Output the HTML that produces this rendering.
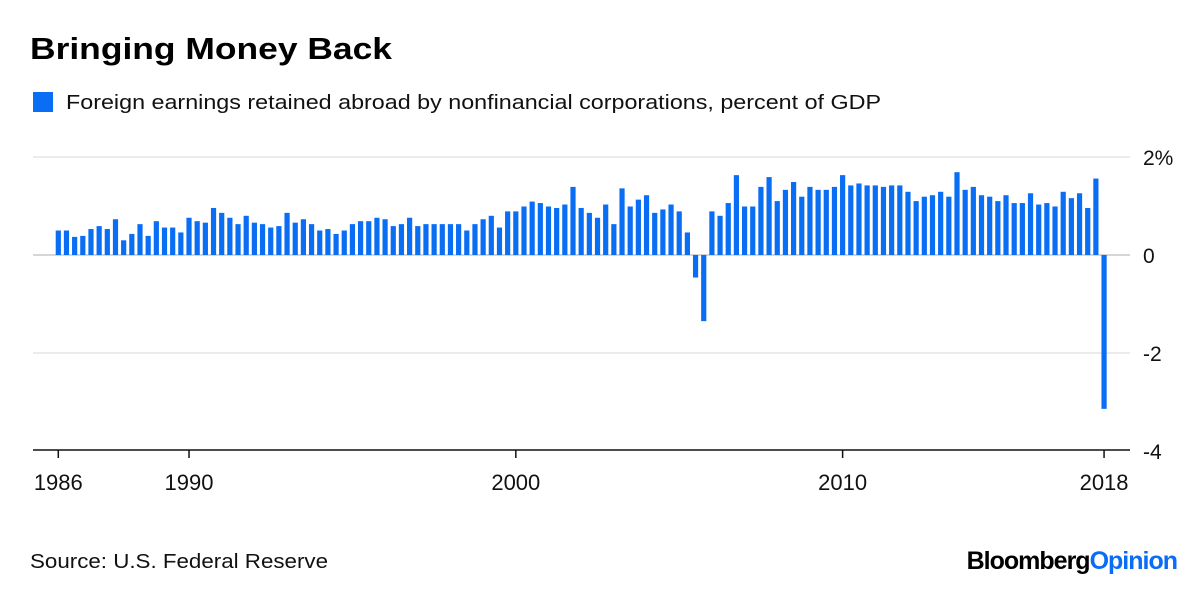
<!DOCTYPE html>
<html><head><meta charset="utf-8"><style>
body{margin:0;background:#fff;width:1200px;height:588px;overflow:hidden;font-family:"Liberation Sans",sans-serif}
</style></head><body>
<svg width="1200" height="588" xmlns="http://www.w3.org/2000/svg">
<text x="30" y="59" font-size="31" font-weight="bold" fill="#000" textLength="362" lengthAdjust="spacingAndGlyphs">Bringing Money Back</text>
<rect x="33" y="92" width="20" height="20" fill="#0a6ef5"/>
<text x="66" y="109" font-size="20" fill="#111" textLength="815" lengthAdjust="spacingAndGlyphs">Foreign earnings retained abroad by nonfinancial corporations, percent of GDP</text>
<g id="grid"></g>
<g id="bars"></g>
<g id="axes"></g>
<text x="30" y="568" font-size="20" fill="#111" textLength="298" lengthAdjust="spacingAndGlyphs">Source: U.S. Federal Reserve</text>
<text x="1177" y="569" font-size="25" font-weight="bold" text-anchor="end" letter-spacing="-1"><tspan fill="#000">Bloomberg</tspan><tspan fill="#0a6ef5">Opinion</tspan></text>
</svg>
<script>
const startYear = 1986;
const values = [0.50,0.50,0.37,0.39,0.53,0.59,0.53,0.73,0.30,0.43,0.63,0.39,0.69,0.56,0.56,0.46,0.76,0.69,0.66,0.96,0.86,0.76,0.63,0.80,0.66,0.63,0.56,0.59,0.86,0.66,0.73,0.63,0.50,0.53,0.43,0.50,0.63,0.69,0.69,0.76,0.73,0.59,
0.63,0.76,0.59,0.63,0.63,0.63,0.63,0.63,0.50,0.63,0.73,0.80,0.56,0.89,0.89,0.99,1.09,1.06,0.99,0.96,1.03,1.39,0.96,0.86,0.76,1.03,0.63,1.36,0.99,1.13,1.22,0.86,0.93,1.03,0.89,0.46,-0.46,-1.35,0.89,0.80,1.06,1.63,0.99,
0.99,1.39,1.59,1.10,1.33,1.49,1.19,1.39,1.33,1.33,1.39,1.63,1.42,1.46,1.42,1.42,1.39,1.42,1.42,1.29,1.10,1.19,1.22,1.29,1.19,1.69,1.33,1.39,1.22,1.19,1.10,1.22,1.06,1.06,1.26,1.03,1.06,0.99,1.29,1.16,1.26,0.96,1.56,-3.14];
const yTicks = [2,0,-2,-4];
const yTickLabels = ["2%","0","-2","-4"];
const xTicks = [1986,1990,2000,2010,2018];
const NS="http://www.w3.org/2000/svg";
const x0=58.3, qw=8.17;
function xq(i){return x0+i*qw;}
function xYear(y){return x0+(y-startYear)*4*qw;}
function yv(v){return 255-v*49;}
const grid=document.getElementById('grid'), bars=document.getElementById('bars'), axes=document.getElementById('axes');
yTicks.forEach((t,k)=>{
  if(t!==-4){
    const l=document.createElementNS(NS,'line');
    l.setAttribute('x1',33);l.setAttribute('x2',1130);l.setAttribute('y1',yv(t));l.setAttribute('y2',yv(t));
    l.setAttribute('stroke',t===0?'#c8c8c8':'#ebebeb');l.setAttribute('stroke-width',t===0?1.5:2);
    
    
    grid.appendChild(l);
  }
  const tx=document.createElementNS(NS,'text');
  tx.setAttribute('x',1143);tx.setAttribute('y',yv(t)+8);tx.setAttribute('font-size','21');tx.setAttribute('fill','#111');
  tx.textContent=yTickLabels[k];
  
  
  axes.appendChild(tx);
});
values.forEach((v,i)=>{
  const r=document.createElementNS(NS,'rect');
  const y1=yv(Math.max(v,0)), y2=yv(Math.min(v,0));
  r.setAttribute('x',xq(i)-2.6);r.setAttribute('width',5.2);r.setAttribute('y',y1);r.setAttribute('height',Math.max(y2-y1,0.5));
  r.setAttribute('fill','#0a6ef5');
  
  
  bars.appendChild(r);
});
const ax=document.createElementNS(NS,'line');
ax.setAttribute('x1',33);ax.setAttribute('x2',1130);ax.setAttribute('y1',450);ax.setAttribute('y2',450);ax.setAttribute('stroke','#111');ax.setAttribute('stroke-width',1.5);


axes.appendChild(ax);
xTicks.forEach(y=>{
  const x=xYear(y);
  const t=document.createElementNS(NS,'line');
  t.setAttribute('x1',x);t.setAttribute('x2',x);t.setAttribute('y1',450);t.setAttribute('y2',458);t.setAttribute('stroke','#111');t.setAttribute('stroke-width',1.5);
  
  
  axes.appendChild(t);
  const tx=document.createElementNS(NS,'text');
  tx.setAttribute('x',x);tx.setAttribute('y',490);tx.setAttribute('font-size','22');tx.setAttribute('text-anchor','middle');tx.setAttribute('fill','#111');
  tx.textContent=y;
  
  
  axes.appendChild(tx);
});
</script>
</body></html>
